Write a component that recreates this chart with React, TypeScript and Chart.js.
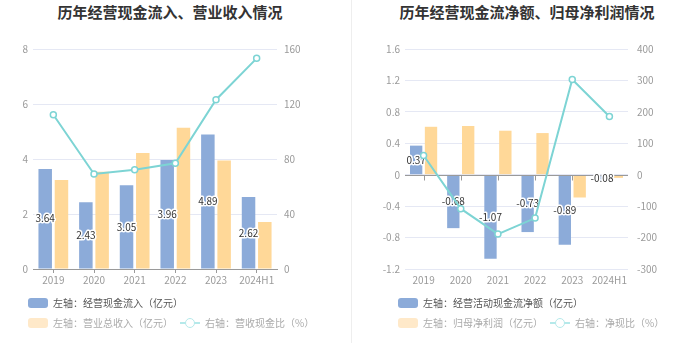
import React, { useEffect, useRef } from 'react';
import { Chart, registerables } from 'chart.js';
Chart.register(...registerables);

const FONT = "'Noto Sans CJK SC', 'Noto Sans', sans-serif";

// ---- data ----
const years = ['2019', '2020', '2021', '2022', '2023', '2024H1'];

// left chart
const cashInflow = [3.64, 2.43, 3.05, 3.96, 4.89, 2.62];
const revenue = [3.24, 3.54, 4.22, 5.14, 3.95, 1.71];
const cashRevenueRatio = [112.2, 69.1, 72.2, 76.9, 123.1, 153.2];
const leftTicksA = [0, 2, 4, 6, 8];
const rightTicksA = [0, 40, 80, 120, 160];

// right chart
const netOpCash = [0.37, -0.68, -1.07, -0.73, -0.89, -0.08];
const netProfit = [0.61, 0.62, 0.56, 0.53, -0.29, -0.04];
const netCashRatio = [61, -108, -189, -138, 303, 185];
const leftTicksB = [-1.2, -0.8, -0.4, 0, 0.4, 0.8, 1.2, 1.6];
const rightTicksB = [-300, -200, -100, 0, 100, 200, 300, 400];

// ---- styles ----
const BLUE = '#8cabd9';
const ORANGE = '#ffd898';
const TEAL = '#7dd4d4';
const GRID = '#e5e8f4';
const TICK = '#9a9a9a';
const AXIS = '#9a9a9a';

const fmt = (v: any) => String(Number(Number(v).toFixed(1)));

const labelPlugin = {
  id: 'barLabels',
  afterDatasetDraw(chart: any, args: any, opts: any) {
    if (args.index !== 0) return;
    const ctx = chart.ctx;
    if (opts && opts.zeroAxis) {
      const ys = chart.scales.y;
      const xs = chart.scales.x;
      const y0 = Math.round(ys.getPixelForValue(0)) + 0.5;
      ctx.save();
      ctx.strokeStyle = AXIS;
      ctx.lineWidth = 1;
      ctx.beginPath();
      ctx.moveTo(chart.chartArea.left, y0);
      ctx.lineTo(chart.chartArea.right, y0);
      years.forEach((_, i) => {
        const x = Math.round(xs.getPixelForValue(i)) + 0.5;
        ctx.moveTo(x, y0);
        ctx.lineTo(x, y0 + 5);
      });
      ctx.stroke();
      ctx.restore();
    }
    const meta = args.meta;
    const data = chart.data.datasets[0].data as number[];
    ctx.save();
    ctx.font = `10px ${FONT}`;
    ctx.textAlign = 'center';
    ctx.textBaseline = 'middle';
    ctx.lineJoin = 'round';
    ctx.lineWidth = 3;
    ctx.strokeStyle = '#ffffff';
    ctx.fillStyle = '#333333';
    meta.data.forEach((el: any, i: number) => {
      const p = el.getProps(['x', 'y', 'base'], true);
      const cy = (p.y + p.base) / 2;
      const t = data[i].toFixed(2);
      ctx.strokeText(t, p.x, cy);
      ctx.fillText(t, p.x, cy);
    });
    ctx.restore();
  },
};

function makeConfig(
  bars1: number[],
  bars2: number[],
  line: number[],
  lt: number[],
  rt: number[],
  leftW: number,
  rightW: number,
  rightPad: number,
  zeroAxis: boolean
): any {
  const tickFont = { size: 10, family: FONT };
  return {
    type: 'bar',
    data: {
      labels: years,
      datasets: [
        {
          type: 'bar',
          data: bars1,
          backgroundColor: BLUE,
          yAxisID: 'y',
          order: 1,
          categoryPercentage: 0.8,
          barPercentage: 0.83,
        },
        {
          type: 'bar',
          data: bars2,
          backgroundColor: ORANGE,
          yAxisID: 'y',
          order: 1,
          categoryPercentage: 0.8,
          barPercentage: 0.83,
        },
        {
          type: 'line',
          data: line,
          yAxisID: 'y1',
          order: 0,
          borderColor: TEAL,
          borderWidth: 2,
          tension: 0,
          pointRadius: 3,
          pointBackgroundColor: '#ffffff',
          pointBorderColor: TEAL,
          pointBorderWidth: 1.5,
        },
      ],
    },
    options: {
      responsive: false,
      animation: false,
      layout: { padding: { top: 49, left: 0, right: 0, bottom: 0 } },
      plugins: {
        legend: { display: false },
        tooltip: { enabled: false },
        title: { display: false },
        barLabels: { zeroAxis },
      },
      scales: {
        x: {
          offset: true,
          grid: {
            display: true,
            drawOnChartArea: false,
            drawTicks: true,
            tickLength: 4,
            offset: false,
            color: zeroAxis ? 'rgba(0,0,0,0)' : AXIS,
          },
          border: { display: !zeroAxis, color: AXIS },
          ticks: { color: TICK, font: tickFont, padding: 1, maxRotation: 0, autoSkip: false },
          afterFit: (s: any) => {
            s.height = 21;
          },
        },
        y: {
          position: 'left',
          min: lt[0],
          max: lt[lt.length - 1],
          afterBuildTicks: (s: any) => {
            s.ticks = lt.map((v) => ({ value: v }));
          },
          afterFit: (s: any) => {
            s.width = leftW;
          },
          grid: { color: GRID, drawTicks: false },
          border: { display: false },
          ticks: { color: TICK, font: tickFont, padding: 5, callback: fmt },
        },
        y1: {
          position: 'right',
          min: rt[0],
          max: rt[rt.length - 1],
          afterBuildTicks: (s: any) => {
            s.ticks = rt.map((v) => ({ value: v }));
          },
          afterFit: (s: any) => {
            s.width = rightW;
          },
          grid: { display: false, drawOnChartArea: false, drawTicks: false },
          border: { display: false },
          ticks: { color: TICK, font: tickFont, padding: rightPad, callback: fmt },
        },
      },
    },
    plugins: [labelPlugin],
  };
}

function ChartCanvas({ config, left }: { config: any; left: number }) {
  const ref = useRef<HTMLCanvasElement | null>(null);
  useEffect(() => {
    if (!ref.current) return;
    const c = new Chart(ref.current, config);
    return () => c.destroy();
  }, [config]);
  return (
    <canvas
      ref={ref}
      width={350}
      height={290}
      style={{ position: 'absolute', left, top: 0, width: 350, height: 290 }}
    />
  );
}

const cfgA = makeConfig(cashInflow, revenue, cashRevenueRatio, leftTicksA, rightTicksA, 33, 73, 7, false);
const cfgB = makeConfig(netOpCash, netProfit, netCashRatio, leftTicksB, rightTicksB, 55, 72, 9, true);

const textStyle = (left: number, cy: number, color: string): React.CSSProperties => ({
  position: 'absolute',
  left,
  top: cy - 8,
  height: 16,
  lineHeight: '16px',
  fontSize: 10,
  fontFamily: FONT,
  color,
  whiteSpace: 'nowrap',
});

function Box({ left, cy, color }: { left: number; cy: number; color: string }) {
  return (
    <div
      style={{
        position: 'absolute',
        left,
        top: cy - 5,
        width: 20,
        height: 10,
        borderRadius: 3,
        background: color,
      }}
    />
  );
}

function LineMark({ left, cy, color }: { left: number; cy: number; color: string }) {
  return (
    <>
      <div style={{ position: 'absolute', left, top: cy - 1, width: 20, height: 2, background: color }} />
      <div
        style={{
          position: 'absolute',
          left: left + 5,
          top: cy - 5,
          width: 10,
          height: 10,
          boxSizing: 'border-box',
          borderRadius: '50%',
          border: `1.5px solid ${color}`,
          background: '#fff',
        }}
      />
    </>
  );
}

const titleStyle = (left: number): React.CSSProperties => ({
  position: 'absolute',
  left,
  top: 2,
  width: 350,
  textAlign: 'center',
  fontSize: 15,
  lineHeight: '20px',
  fontWeight: 'bold',
  fontFamily: FONT,
  color: '#333',
});

export default function App() {
  const fadedOrange = '#ffe9c9';
  const fadedTeal = '#b5e9ea';
  const dark = '#555';
  const light = '#aaa';
  return (
    <div
      style={{
        position: 'fixed',
        left: 0,
        top: 0,
        width: 700,
        height: 360,
        background: '#fff',
        overflow: 'hidden',
      }}
    >
      <div style={titleStyle(-5)}>历年经营现金流入、营业收入情况</div>
      <div style={titleStyle(352)}>历年经营现金流净额、归母净利润情况</div>
      <ChartCanvas config={cfgA} left={0} />
      <ChartCanvas config={cfgB} left={350} />
      <div style={{ position: 'absolute', left: 351, top: 0, width: 1, height: 343, background: '#eeeeee' }} />

      {/* left legend */}
      <Box left={28} cy={303} color={BLUE} />
      <div style={textStyle(53, 303, dark)}>左轴：经营现金流入（亿元）</div>
      <Box left={28} cy={323} color={fadedOrange} />
      <div style={textStyle(53, 323, light)}>左轴：营业总收入（亿元）</div>
      <LineMark left={180} cy={323} color={fadedTeal} />
      <div style={textStyle(205, 323, light)}>右轴：营收现金比（%）</div>

      {/* right legend */}
      <Box left={398} cy={303} color={BLUE} />
      <div style={textStyle(423, 303, dark)}>左轴：经营活动现金流净额（亿元）</div>
      <Box left={398} cy={323} color={fadedOrange} />
      <div style={textStyle(423, 323, light)}>左轴：归母净利润（亿元）</div>
      <LineMark left={550} cy={323} color={fadedTeal} />
      <div style={textStyle(575, 323, light)}>右轴：净现比（%）</div>
    </div>
  );
}
